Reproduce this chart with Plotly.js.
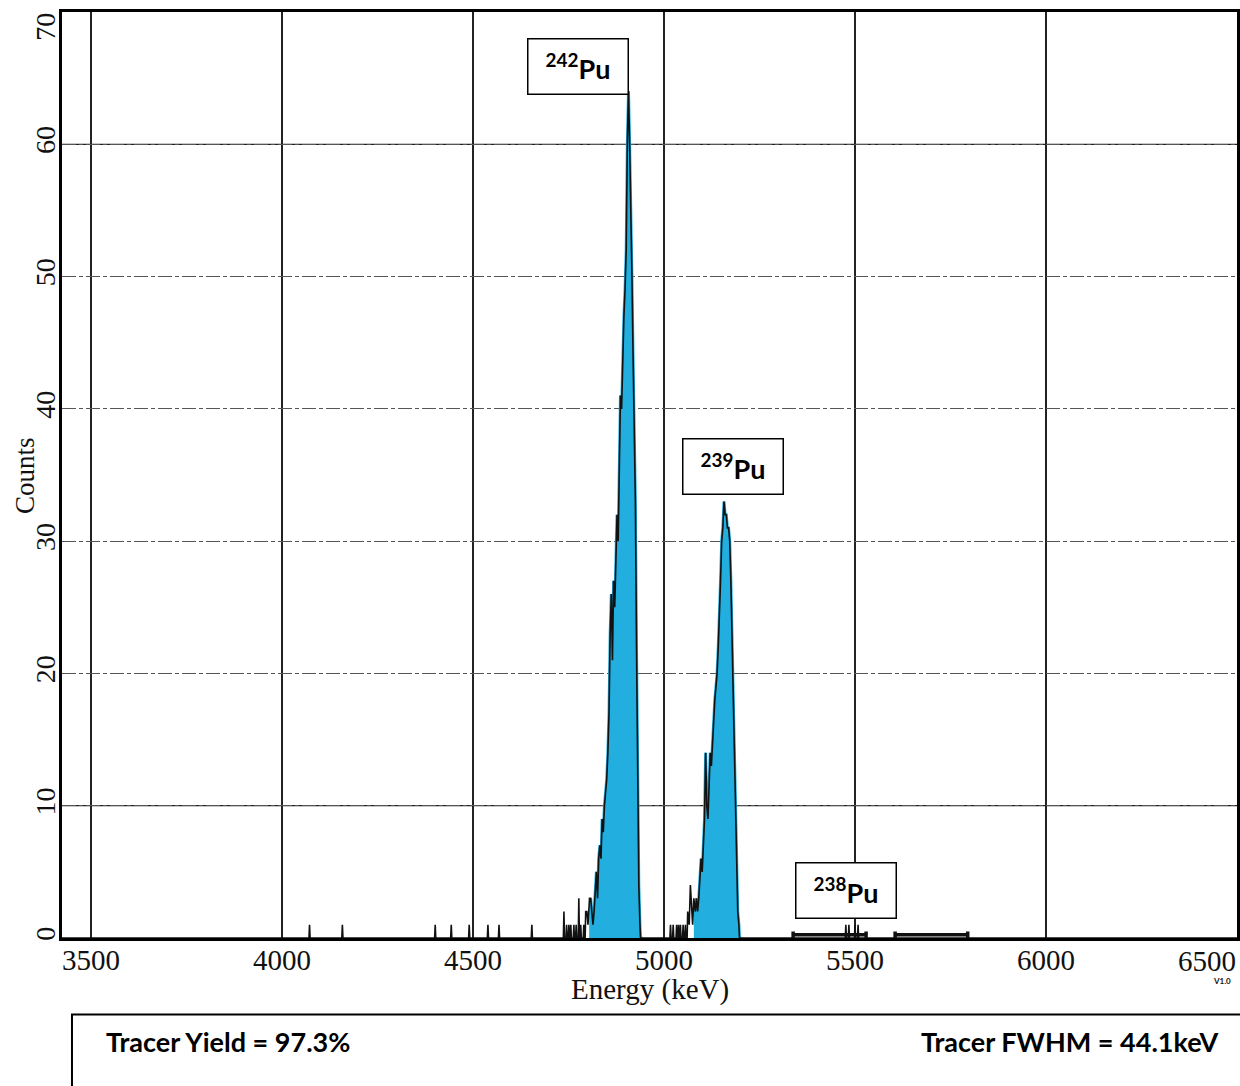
<!DOCTYPE html>
<html>
<head>
<meta charset="utf-8">
<script src="https://cdn.plot.ly/plotly-3.0.1.min.js"></script>
<style>html,body{margin:0;padding:0;background:#fff;}#chart{width:1240px;height:1086px;}</style>
</head>
<body>
<div id="chart"></div>
<script>
// ---- data ----
const noiseEnergy = [4072, 4158, 4401, 4443, 4490, 4539, 4568, 4654];
const noiseCounts = [1, 1, 1, 1, 1, 1, 1, 1];

const pu242Energy = [4738, 4745, 4751, 4756, 4764, 4770, 4777, 4782, 4790, 4795, 4798, 4801, 4805, 4808, 4811,
  4814, 4817, 4820, 4823, 4826, 4829, 4832, 4835, 4838, 4841, 4844, 4847, 4850, 4853, 4856, 4859, 4862, 4865,
  4868, 4871, 4874, 4877, 4880, 4883, 4886, 4889, 4892, 4895, 4898, 4901, 4904, 4907, 4910, 4913, 4916, 4919,
  4922, 4925, 4928, 4931, 4934, 4937];
const pu242Counts = [2, 1, 1, 1, 1, 1, 3, 1, 1, 2, 2, 1, 3, 3, 2,
  1, 2, 4, 5, 3, 6, 7, 6, 9, 8, 10, 11, 12, 14, 17, 23, 26, 21,
  27, 25, 30, 32, 30, 37, 41, 40, 44, 47, 49, 52, 60, 64, 60, 56, 50, 44,
  38, 33, 22, 12, 4, 1];

const pu239Energy = [5017, 5024, 5033, 5038, 5043, 5050, 5056, 5062, 5066, 5069, 5072, 5075, 5078, 5082, 5085,
  5088, 5091, 5094, 5097, 5100, 5103, 5106, 5109, 5112, 5115, 5118, 5121, 5124, 5127, 5130, 5133, 5136, 5139,
  5142, 5145, 5148, 5151, 5154, 5157, 5160, 5163, 5166, 5169, 5172, 5175, 5178, 5181, 5184, 5187, 5190, 5193, 5196];
const pu239Counts = [1, 1, 1, 1, 1, 1, 1, 2, 1, 4, 2, 1, 3, 2, 3,
  2, 3, 5, 6, 5, 7, 9, 14, 10, 9, 11, 14, 13, 15, 16, 18, 19, 20,
  22, 24, 27, 30, 31, 33, 32, 32, 31, 31, 30, 27, 23, 19, 14, 9, 5, 2, 1];

const pu238Energy = [5476, 5484, 5500, 5508];
const pu238Counts = [1, 1, 1, 1];

const roiStart = [5338, 5605];
const roiEnd = [5529, 5795];
const fillRanges = [[4808, 4940], [5080, 5200]];

const xTicks = [3500, 4000, 4500, 5000, 5500, 6000];
const yTicks = [0, 10, 20, 30, 40, 50, 60];
const solidGridY = [10, 60];
const peakLabels = ['242', '239', '238'];
const peakLabelX = [4773.6, 5179.3, 5475.1];
const peakLabelY = [65.87, 35.63, 3.58];
const yieldText = 'Tracer Yield = 97.3%';
const fwhmText = 'Tracer FWHM = 44.1keV';

// ---- build spectrum line (zero channels around isolated counts) ----
const HALF = 1.5;
let pts = [];
[[noiseEnergy, noiseCounts], [pu242Energy, pu242Counts], [pu239Energy, pu239Counts], [pu238Energy, pu238Counts]]
  .forEach(([e, c]) => e.forEach((v, i) => pts.push([v, c[i]])));
pts.sort((a, b) => a[0] - b[0]);
const specX = [3424], specY = [0];
for (let i = 0; i < pts.length; i++) {
  const [e, c] = pts[i];
  const prev = i > 0 ? pts[i - 1][0] : -1e9;
  const next = i < pts.length - 1 ? pts[i + 1][0] : 1e9;
  if (e - prev > 4) { specX.push(e - HALF); specY.push(0); }
  specX.push(e); specY.push(c);
  if (next - e > 4) { specX.push(e + HALF); specY.push(0); }
}
specX.push(6500); specY.push(0);

const traces = [];
fillRanges.forEach(([a, b]) => {
  const fx = [], fy = [];
  for (let i = 0; i < specX.length; i++) {
    if (specX[i] >= a && specX[i] <= b) { fx.push(specX[i]); fy.push(specY[i]); }
  }
  fx.unshift(fx[0]); fy.unshift(0);
  fx.push(fx[fx.length - 1] + 5); fy.push(0);
  traces.push({x: fx, y: fy, type: 'scatter', mode: 'lines', fill: 'tozeroy',
    fillcolor: '#22aedf', line: {width: 3, color: '#22aedf'}, hoverinfo: 'skip', showlegend: false});
});
traces.push({x: specX, y: specY, type: 'scatter', mode: 'lines',
  line: {color: '#111', width: 1.6}, showlegend: false});
roiStart.forEach((s, i) => {
  const e = roiEnd[i];
  traces.push({x: [s, s, s, e, e, e], y: [0.0, 0.5, 0.25, 0.25, 0.5, 0.0], type: 'scatter', mode: 'lines',
    line: {color: '#111', width: 3.5}, showlegend: false, cliponaxis: false});
});

const serif = 'Liberation Serif, Times New Roman, serif';
const sans = 'Lato, Open Sans, sans-serif';
const annotations = [];
peakLabels.forEach((m, i) => {
  annotations.push({x: peakLabelX[i], y: peakLabelY[i], xref: 'x', yref: 'y',
    text: '<b><sup>' + m + '</sup>Pu</b>', showarrow: false,
    font: {family: sans, size: 27, color: '#000'},
    bordercolor: '#000', borderwidth: 1.5, borderpad: 0, bgcolor: '#fff',
    width: 99, height: 54, xanchor: 'center', yanchor: 'middle'});
});
annotations.push({x: -0.0136, y: 0.984, xref: 'paper', yref: 'paper', text: '70', textangle: -90,
  showarrow: false, font: {family: serif, size: 28, color: '#111'}, xanchor: 'center', yanchor: 'middle'});
annotations.push({x: -0.0315, y: 0.5, xref: 'paper', yref: 'paper', text: 'Counts', textangle: -90,
  showarrow: false, font: {family: serif, size: 27, color: '#111'}, xanchor: 'center', yanchor: 'middle'});
annotations.push({x: 0.5004, y: -0.0557, xref: 'paper', yref: 'paper', text: 'Energy (keV)',
  showarrow: false, font: {family: serif, size: 29, color: '#111'}, xanchor: 'center', yanchor: 'middle'});
annotations.push({x: 0.9745, y: -0.0245, xref: 'paper', yref: 'paper', text: '6500',
  showarrow: false, font: {family: serif, size: 29, color: '#111'}, xanchor: 'center', yanchor: 'middle'});
annotations.push({x: 0.987, y: -0.046, xref: 'paper', yref: 'paper', text: '<b>V1.0</b>',
  showarrow: false, font: {family: sans, size: 8, color: '#111'}, xanchor: 'center', yanchor: 'middle'});
annotations.push({x: 0.0357, y: -0.1118, xref: 'paper', yref: 'paper', text: '<b>' + yieldText + '</b>',
  showarrow: false, font: {family: sans, size: 27, color: '#000'}, xanchor: 'left', yanchor: 'middle'});
annotations.push({x: 0.9855, y: -0.1118, xref: 'paper', yref: 'paper', text: '<b>' + fwhmText + '</b>',
  showarrow: false, font: {family: sans, size: 27, color: '#000'}, xanchor: 'right', yanchor: 'middle'});

const shapes = [{type: 'rect', xref: 'paper', yref: 'paper', x0: 0.0085, x1: 1.05, y0: -0.0826, y1: -0.2,
  line: {color: '#000', width: 2}, fillcolor: 'rgba(0,0,0,0)'}];
solidGridY.forEach(v => shapes.push({type: 'line', xref: 'paper', yref: 'y', x0: 0, x1: 1, y0: v, y1: v,
  line: {color: '#222', width: 1.3}, layer: 'below'}));

const layout = {
  width: 1240, height: 1086,
  margin: {l: 62, r: 3, t: 12, b: 148},
  paper_bgcolor: '#fff', plot_bgcolor: '#fff',
  showlegend: false,
  xaxis: {range: [3424, 6500], tickvals: xTicks, ticktext: xTicks.map(String),
    showgrid: true, gridcolor: '#222', gridwidth: 1.2, zeroline: false,
    showline: true, linecolor: '#000', linewidth: 3, mirror: true, ticks: '',
    ticklabelstandoff: -6,
    tickfont: {family: serif, size: 29, color: '#111'}},
  yaxis: {range: [0, 70], tickvals: yTicks, ticktext: yTicks.map(String), tickangle: -90,
    showgrid: true, gridcolor: '#555', gridwidth: 1.2, griddash: '14px,3px,4px,3px', zeroline: false,
    showline: true, linecolor: '#000', linewidth: 3.5, mirror: true, ticks: '',
    ticklabelstandoff: -8,
    tickfont: {family: serif, size: 28, color: '#111'}},
  shapes: shapes,
  annotations: annotations
};
Plotly.newPlot('chart', traces, layout, {staticPlot: true});
</script>
</body>
</html>
